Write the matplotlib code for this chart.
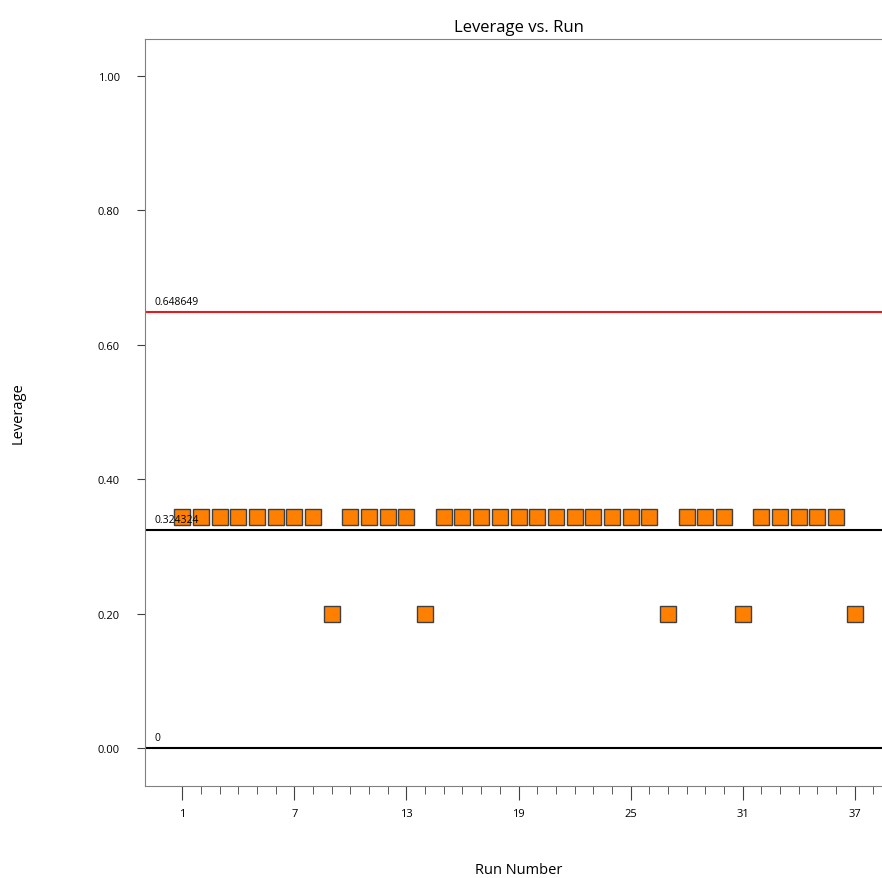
import numpy as np
import matplotlib.pyplot as plt
from matplotlib.ticker import FixedLocator

plt.rcParams['font.family'] = ['Open Sans', 'DejaVu Sans']

# Datos
run = np.arange(1, 38)
low_runs = [9, 14, 27, 31, 37]
leverage = [0.20 if r in low_runs else 0.343 for r in run]
limit_high = 0.648649
limit_mid = 0.324324
limit_zero = 0.0
xticks = [1, 7, 13, 19, 25, 31, 37]
yticks = [0.0, 0.2, 0.4, 0.6, 0.8, 1.0]

fig = plt.figure(figsize=(8.82, 8.79), dpi=100)
ax = fig.add_axes([0.1644, 0.1047, 0.847, 0.8498])

ax.axhline(limit_high, color='#e8191c', lw=1.5, zorder=1)
ax.axhline(limit_mid, color='black', lw=1.5, zorder=1)
ax.axhline(limit_zero, color='black', lw=1.5, zorder=1)

ax.plot(run, leverage, 's', ms=11, mfc='#ff8000', mec='#404040', mew=1, zorder=3)

for val, txt in [(limit_high, '0.648649'), (limit_mid, '0.324324'), (limit_zero, '0')]:
    ax.text(-0.5, val + 0.007, txt, fontsize=7.5, va='bottom', ha='left', zorder=4)

ax.set_xlim(-1, 39)
ax.set_ylim(-0.0565, 1.055)
ax.xaxis.set_major_locator(FixedLocator(xticks))
ax.xaxis.set_minor_locator(FixedLocator(np.arange(1, 40)))
ax.set_yticks(yticks)
ax.set_yticklabels([f'{v:.2f}' for v in yticks])
ax.tick_params(axis='x', which='major', length=10, color='#404040', labelsize=8, pad=6)
ax.tick_params(axis='x', which='minor', length=6, color='#404040')
ax.tick_params(axis='y', length=6, color='#404040', labelsize=8, pad=12)

for s in ['left', 'top', 'bottom']:
    ax.spines[s].set_color('#808080')
ax.spines['right'].set_visible(False)

ax.set_title('Leverage vs. Run', fontsize=12, pad=6)
ax.set_xlabel('Run Number', fontsize=10.5, labelpad=31)
ax.set_ylabel('Leverage', fontsize=10.5, labelpad=52)

fig.savefig('out.png', dpi=100)
